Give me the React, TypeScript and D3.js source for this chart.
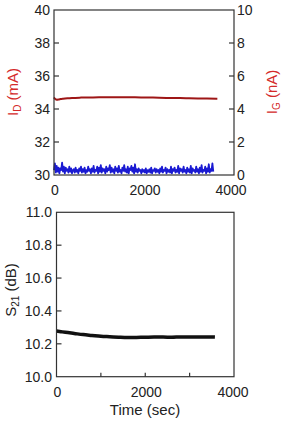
import React from "react";
import * as d3 from "d3";

// ---- data ----
const xTicks = [0, 2000, 4000];
const xMinorTicks = [1000, 2000, 3000];
const idTicks = [30, 32, 34, 36, 38, 40];
const igTicks = [0, 2, 4, 6, 8, 10];
const s21Ticks = [10.0, 10.2, 10.4, 10.6, 10.8, 11.0];

const idTime = [0, 30, 60, 100, 150, 200, 300, 400, 600, 800, 1000, 1200, 1500, 1800, 2000, 2200, 2500, 2800, 3000, 3200, 3400, 3630];
const idValues = [34.7, 34.6, 34.56, 34.57, 34.6, 34.62, 34.65, 34.67, 34.69, 34.7, 34.71, 34.71, 34.71, 34.71, 34.7, 34.69, 34.67, 34.66, 34.65, 34.64, 34.63, 34.62];

const igStep = 20;
const igValues = [
  0.3, 0.7, 0.15, 0.55, 0.2, 0.45, 0.1, 0.4, 0.3, 0.75, 0.2, 0.5, 0.1, 0.45, 0.25, 0.35,
  0.15, 0.5, 0.2, 0.4, 0.1, 0.3, 0.35, 0.15, 0.45, 0.2, 0.3, 0.1, 0.4, 0.25, 0.5, 0.15,
  0.35, 0.2, 0.45, 0.1, 0.3, 0.2, 0.5, 0.25, 0.35, 0.1, 0.4, 0.2, 0.55, 0.15, 0.3, 0.25,
  0.5, 0.1, 0.45, 0.2, 0.6, 0.15, 0.4, 0.25, 0.35, 0.1, 0.5, 0.2, 0.4, 0.3, 0.6, 0.15,
  0.45, 0.2, 0.35, 0.1, 0.5, 0.25, 0.4, 0.15, 0.55, 0.2, 0.3, 0.1, 0.45, 0.25, 0.6, 0.2,
  0.35, 0.15, 0.5, 0.1, 0.4, 0.3, 0.55, 0.2, 0.45, 0.1, 0.65, 0.2, 0.35, 0.15, 0.4, 0.25,
  0.3, 0.1, 0.35, 0.2, 0.3, 0.15, 0.4, 0.1, 0.3, 0.2, 0.35, 0.15, 0.45, 0.1, 0.3, 0.25,
  0.4, 0.15, 0.35, 0.2, 0.3, 0.1, 0.4, 0.2, 0.5, 0.15, 0.3, 0.25, 0.45, 0.1, 0.35, 0.2,
  0.3, 0.15, 0.5, 0.1, 0.35, 0.25, 0.45, 0.15, 0.3, 0.2, 0.55, 0.1, 0.4, 0.25, 0.35, 0.15,
  0.5, 0.2, 0.3, 0.1, 0.45, 0.2, 0.35, 0.15, 0.55, 0.1, 0.4, 0.25, 0.3, 0.15, 0.5, 0.2,
  0.35, 0.1, 0.45, 0.2, 0.6, 0.15, 0.3, 0.25, 0.5, 0.1, 0.4, 0.2, 0.65, 0.15, 0.35, 0.25,
  0.7, 0.2
];

const s21Time = [0, 100, 200, 400, 600, 800, 1000, 1200, 1400, 1600, 1800, 2000, 2200, 2400, 2600, 2800, 3000, 3200, 3400, 3570];
const s21Values = [10.278, 10.274, 10.27, 10.263, 10.256, 10.251, 10.246, 10.243, 10.24, 10.238, 10.239, 10.24, 10.241, 10.241, 10.24, 10.242, 10.241, 10.241, 10.242, 10.241];

const FONT = "Arial, 'Liberation Sans', sans-serif";
const AXIS = "#333";
const TXT = "#222";
const RED_T = "#d42a2a";

export default function App() {
  // top panel
  const tx = d3.scaleLinear().domain([0, 4000]).range([54, 234]);
  const tyL = d3.scaleLinear().domain([30, 40]).range([175, 10]);
  const tyR = d3.scaleLinear().domain([0, 10]).range([175, 10]);
  // bottom panel
  const bx = d3.scaleLinear().domain([0, 4000]).range([56.5, 234]);
  const by = d3.scaleLinear().domain([10, 11]).range([376.7, 212.3]);

  const idLine = d3.line<number>().x((_, i) => tx(idTime[i])).y((d) => tyL(d)).curve(d3.curveMonotoneX);
  const igLine = d3.line<number>().x((_, i) => tx(i * igStep)).y((d) => tyR(d));
  const s21Line = d3.line<number>().x((_, i) => bx(s21Time[i])).y((d) => by(d)).curve(d3.curveMonotoneX);

  return (
    <svg width={281} height={423} style={{ position: "absolute", left: 0, top: 0, background: "#fff" }} fontFamily={FONT}>
      {/* ---------- TOP PANEL ---------- */}
      <path d={igLine(igValues) || ""} fill="none" stroke="#1a1ad2" strokeWidth={1.8} strokeLinejoin="round" />
      <path d={idLine(idValues) || ""} fill="none" stroke="#9e1616" strokeWidth={2} />
      <rect x={54} y={10} width={180} height={165} fill="none" stroke={AXIS} strokeWidth={1.2} />
      {idTicks.map((t) => (
        <g key={"l" + t}>
          {t > 30 && t < 40 && <line x1={54} x2={59} y1={tyL(t)} y2={tyL(t)} stroke={AXIS} strokeWidth={1.2} />}
          <text x={50} y={tyL(t) + 5} textAnchor="end" fontSize={14} fill={TXT}>{t}</text>
        </g>
      ))}
      {igTicks.map((t) => (
        <g key={"r" + t}>
          {t > 0 && t < 10 && <line x1={229} x2={234} y1={tyR(t)} y2={tyR(t)} stroke={AXIS} strokeWidth={1.2} />}
          <text x={237} y={tyR(t) + 5} textAnchor="start" fontSize={14} fill={TXT}>{t}</text>
        </g>
      ))}
      {xTicks.map((t) => (
        <text key={"tx" + t} x={t === 4000 ? tx(t) - 3 : tx(t) + 1} y={195} textAnchor="middle" fontSize={14} fill={TXT}>{t}</text>
      ))}
      <text transform="translate(18,92) rotate(-90)" textAnchor="middle" fontSize={15} fill={RED_T}>
        I<tspan fontSize={10} dy={3}>D</tspan><tspan dy={-3}> (mA)</tspan>
      </text>
      <text transform="translate(277,92) rotate(-90)" textAnchor="middle" fontSize={15} fill={RED_T}>
        I<tspan fontSize={10} dy={3}>G</tspan><tspan dy={-3}> (nA)</tspan>
      </text>

      {/* ---------- BOTTOM PANEL ---------- */}
      <path d={s21Line(s21Values) || ""} fill="none" stroke="#111" strokeWidth={3.5} />
      <rect x={56.5} y={212.3} width={177.5} height={164.4} fill="none" stroke={AXIS} strokeWidth={1.2} />
      {s21Ticks.map((t) => (
        <g key={"s" + t}>
          {t > 10 && t < 11 && <line x1={56.5} x2={61.5} y1={by(t)} y2={by(t)} stroke={AXIS} strokeWidth={1.2} />}
          <text x={52} y={by(t) + 5} textAnchor="end" fontSize={14} fill={TXT}>{t.toFixed(1)}</text>
        </g>
      ))}
      {xMinorTicks.map((t) => (
        <line key={"bm" + t} x1={bx(t)} x2={bx(t)} y1={376.7} y2={372.7} stroke={AXIS} strokeWidth={1.2} />
      ))}
      {xTicks.map((t) => (
        <text key={"bx" + t} x={t === 4000 ? bx(t) - 1 : bx(t) + 1} y={397} textAnchor="middle" fontSize={14} fill={TXT}>{t}</text>
      ))}
      <text x={145} y={415} textAnchor="middle" fontSize={15} fill={TXT}>Time (sec)</text>
      <text transform="translate(16,290) rotate(-90)" textAnchor="middle" fontSize={15} fill={TXT}>
        S<tspan fontSize={10} dy={3}>21</tspan><tspan dy={-3}> (dB)</tspan>
      </text>
    </svg>
  );
}
